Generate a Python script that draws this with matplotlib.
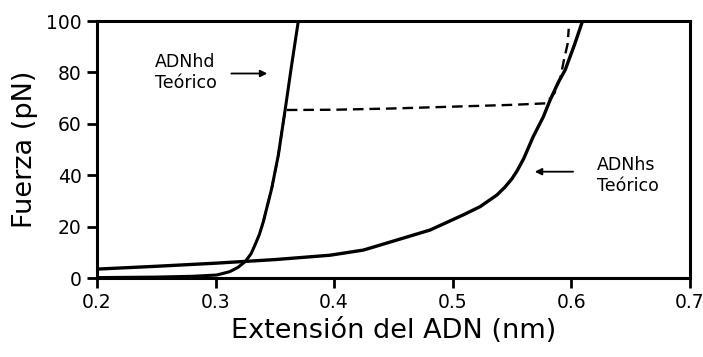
import matplotlib
matplotlib.use("Agg")
import matplotlib.pyplot as plt

# Double-stranded DNA (ADNhd) theoretical curve
hd_x = [0.20, 0.25, 0.28, 0.301, 0.312, 0.319, 0.325, 0.330, 0.3333, 0.337,
        0.3403, 0.3474, 0.353, 0.3587, 0.3642, 0.370]
hd_y = [0.2, 0.4, 0.7, 1.2, 2.5, 4.2, 6.4, 9.5, 12.9, 17.0,
        21.9, 34.9, 47.9, 65.4, 82.9, 100.5]

# Single-stranded DNA (ADNhs) theoretical curve
hs_x = [0.20, 0.25, 0.30, 0.35, 0.3966, 0.4247, 0.4529, 0.481, 0.509, 0.5232,
        0.5373, 0.5440, 0.5500, 0.5545, 0.5600, 0.568, 0.5766, 0.5823, 0.589,
        0.595, 0.603, 0.610]
hs_y = [3.5, 4.6, 5.8, 7.2, 8.9, 10.9, 14.8, 18.7, 24.6, 27.8,
        32.3, 35.3, 38.6, 41.8, 46.5, 55.0, 62.8, 69.3, 76.0,
        81.0, 91.0, 100.5]

# Measured stretching curve (dashed)
dash_x = [0.3403, 0.3474, 0.353, 0.3587, 0.40, 0.45, 0.50, 0.55, 0.579,
          0.586, 0.591, 0.594, 0.597, 0.598]
dash_y = [21.9, 34.9, 47.9, 65.4, 65.5, 66.0, 66.7, 67.4, 68.0,
          72.0, 78.0, 85.0, 91.0, 97.0]

xticks = [0.2, 0.3, 0.4, 0.5, 0.6, 0.7]
xtick_labels = ["0.2", "0.3", "0.4", "0.5", "0.6", "0.7"]
yticks = [0, 20, 40, 60, 80, 100]
ytick_labels = ["0", "20", "40", "60", "80", "100"]

plt.rcParams['font.family'] = ['DejaVu Sans']

fig = plt.figure(figsize=(7.03, 3.57), dpi=100)
ax = fig.add_axes([0.138, 0.221, 0.843, 0.720])

ax.plot(hd_x, hd_y, color="black", lw=2.2, solid_capstyle="round",
        solid_joinstyle="round")
ax.plot(hs_x, hs_y, color="black", lw=2.4, solid_capstyle="round",
        solid_joinstyle="round")
ax.plot(dash_x, dash_y, color="black", lw=1.7, dashes=(4.5, 2.5))

ax.set_xlim(0.2, 0.7)
ax.set_ylim(0, 100)
ax.set_xticks(xticks)
ax.set_xticklabels(xtick_labels)
ax.set_yticks(yticks)
ax.set_yticklabels(ytick_labels)

for s in ax.spines.values():
    s.set_linewidth(2.2)
ax.tick_params(direction="out", length=7, width=2.0, labelsize=13.5, pad=4)

ax.set_xlabel("Extensión del ADN (nm)", fontsize=19.5, labelpad=4)
ax.set_ylabel("Fuerza (pN)", fontsize=19.5, labelpad=6)

ax.text(0.249, 80, "ADNhd\nTeórico", fontsize=12.5, ha="left", va="center",
        linespacing=1.25)
ax.annotate("", xy=(0.346, 79.6), xytext=(0.311, 79.6),
            arrowprops=dict(arrowstyle="-|>", color="black", lw=1.3,
                            mutation_scale=10))

ax.text(0.622, 40, "ADNhs\nTeórico", fontsize=12.5, ha="left", va="center",
        linespacing=1.25)
ax.annotate("", xy=(0.567, 41.4), xytext=(0.604, 41.4),
            arrowprops=dict(arrowstyle="-|>", color="black", lw=1.3,
                            mutation_scale=10))

fig.savefig("out.png", dpi=100)
